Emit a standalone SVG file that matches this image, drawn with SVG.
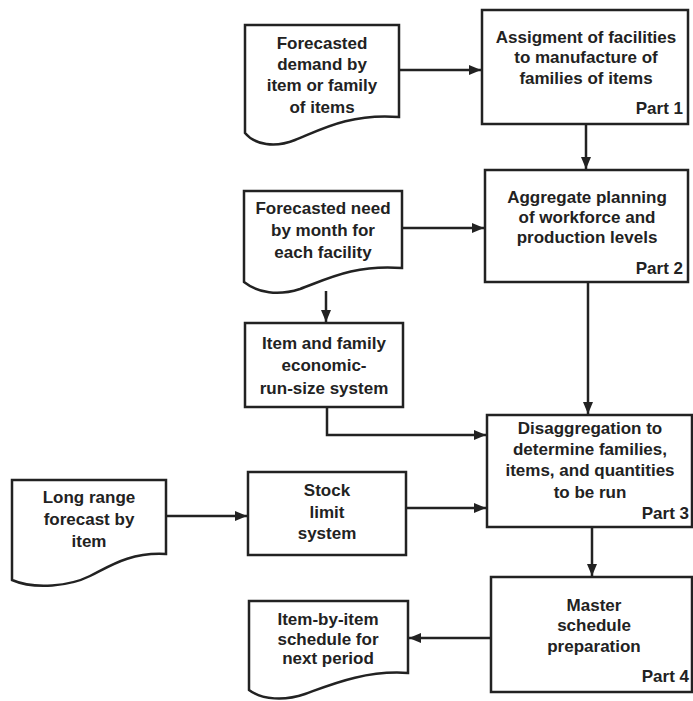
<svg xmlns="http://www.w3.org/2000/svg" width="693" height="701" viewBox="0 0 693 701">
<style>
.s{fill:#fff;stroke:#222;stroke-width:2.5}
.t{font-family:"Liberation Sans",Arial,sans-serif;font-size:17px;font-weight:bold;fill:#222;text-anchor:middle}
.p{font-family:"Liberation Sans",Arial,sans-serif;font-size:17px;font-weight:bold;fill:#222;text-anchor:end}
.c{fill:none;stroke:#222;stroke-width:2.5}
</style>
<defs>
<marker id="a" viewBox="0 0 12 10" refX="12" refY="5" markerWidth="12" markerHeight="10" markerUnits="userSpaceOnUse" orient="auto">
<path d="M0,0 L12,5 L0,10 Z" fill="#222"/>
</marker>
</defs>
<rect width="693" height="701" fill="#fff"/>
<g id="connectors">
<path class="c" d="M399,70 H481" marker-end="url(#a)"/>
<path class="c" d="M586,124 V169" marker-end="url(#a)"/>
<path class="c" d="M402,228 H484" marker-end="url(#a)"/>
<path class="c" d="M326,291 V322" marker-end="url(#a)"/>
<path class="c" d="M588,282 V414" marker-end="url(#a)"/>
<path class="c" d="M327,407 V435 H486" marker-end="url(#a)"/>
<path class="c" d="M166,516 H247" marker-end="url(#a)"/>
<path class="c" d="M406,508 H486" marker-end="url(#a)"/>
<path class="c" d="M592,527 V576" marker-end="url(#a)"/>
<path class="c" d="M491,638 H409" marker-end="url(#a)"/>
</g>
<g id="doc1">
<path class="s" d="M245,25 H399 V117 C350,113 320,130 295,140 C275,148 255,145 245,133 Z"/>
<text class="t" x="322" y="49">Forecasted</text>
<text class="t" x="322" y="70">demand by</text>
<text class="t" x="322" y="91">item or family</text>
<text class="t" x="322" y="113">of items</text>
</g>
<g id="box1">
<rect class="s" x="482" y="10" width="206" height="114"/>
<text class="t" x="586" y="43">Assigment of facilities</text>
<text class="t" x="586" y="63">to manufacture of</text>
<text class="t" x="586" y="84">families of items</text>
<text class="p" x="683" y="114">Part 1</text>
</g>
<g id="doc2">
<path class="s" d="M244,191 H402 V268 C355,264 325,280 300,289 C278,296 258,293 244,282 Z"/>
<text class="t" x="323" y="214">Forecasted need</text>
<text class="t" x="323" y="236">by month for</text>
<text class="t" x="323" y="258">each facility</text>
</g>
<g id="box2">
<rect class="s" x="485" y="170" width="203" height="112"/>
<text class="t" x="587" y="203">Aggregate planning</text>
<text class="t" x="587" y="223">of workforce and</text>
<text class="t" x="587" y="243">production levels</text>
<text class="p" x="683" y="274">Part 2</text>
</g>
<g id="item">
<rect class="s" x="245" y="323" width="158" height="84"/>
<text class="t" x="324" y="349">Item and family</text>
<text class="t" x="324" y="371">economic-</text>
<text class="t" x="324" y="394">run-size system</text>
</g>
<g id="box3">
<rect class="s" x="487" y="415" width="205" height="112"/>
<text class="t" x="590" y="434">Disaggregation to</text>
<text class="t" x="590" y="455">determine families,</text>
<text class="t" x="590" y="476">items, and quantities</text>
<text class="t" x="590" y="498">to be run</text>
<text class="p" x="689" y="519">Part 3</text>
</g>
<g id="longrange">
<path class="s" d="M12,480 H166 V554 C130,552 110,566 90,576 C70,586 35,590 12,580 Z"/>
<text class="t" x="89" y="503">Long range</text>
<text class="t" x="89" y="525">forecast by</text>
<text class="t" x="89" y="547">item</text>
</g>
<g id="stock">
<rect class="s" x="248" y="472" width="158" height="83"/>
<text class="t" x="327" y="496">Stock</text>
<text class="t" x="327" y="518">limit</text>
<text class="t" x="327" y="539">system</text>
</g>
<g id="box4">
<rect class="s" x="491" y="577" width="201" height="115"/>
<text class="t" x="594" y="611">Master</text>
<text class="t" x="594" y="631">schedule</text>
<text class="t" x="594" y="652">preparation</text>
<text class="p" x="689" y="682">Part 4</text>
</g>
<g id="doc3">
<path class="s" d="M249,601 H408 V673 C365,670 330,685 305,694 C285,701 262,700 249,690 Z"/>
<text class="t" x="328" y="625">Item-by-item</text>
<text class="t" x="328" y="645">schedule for</text>
<text class="t" x="328" y="664">next period</text>
</g>
</svg>
